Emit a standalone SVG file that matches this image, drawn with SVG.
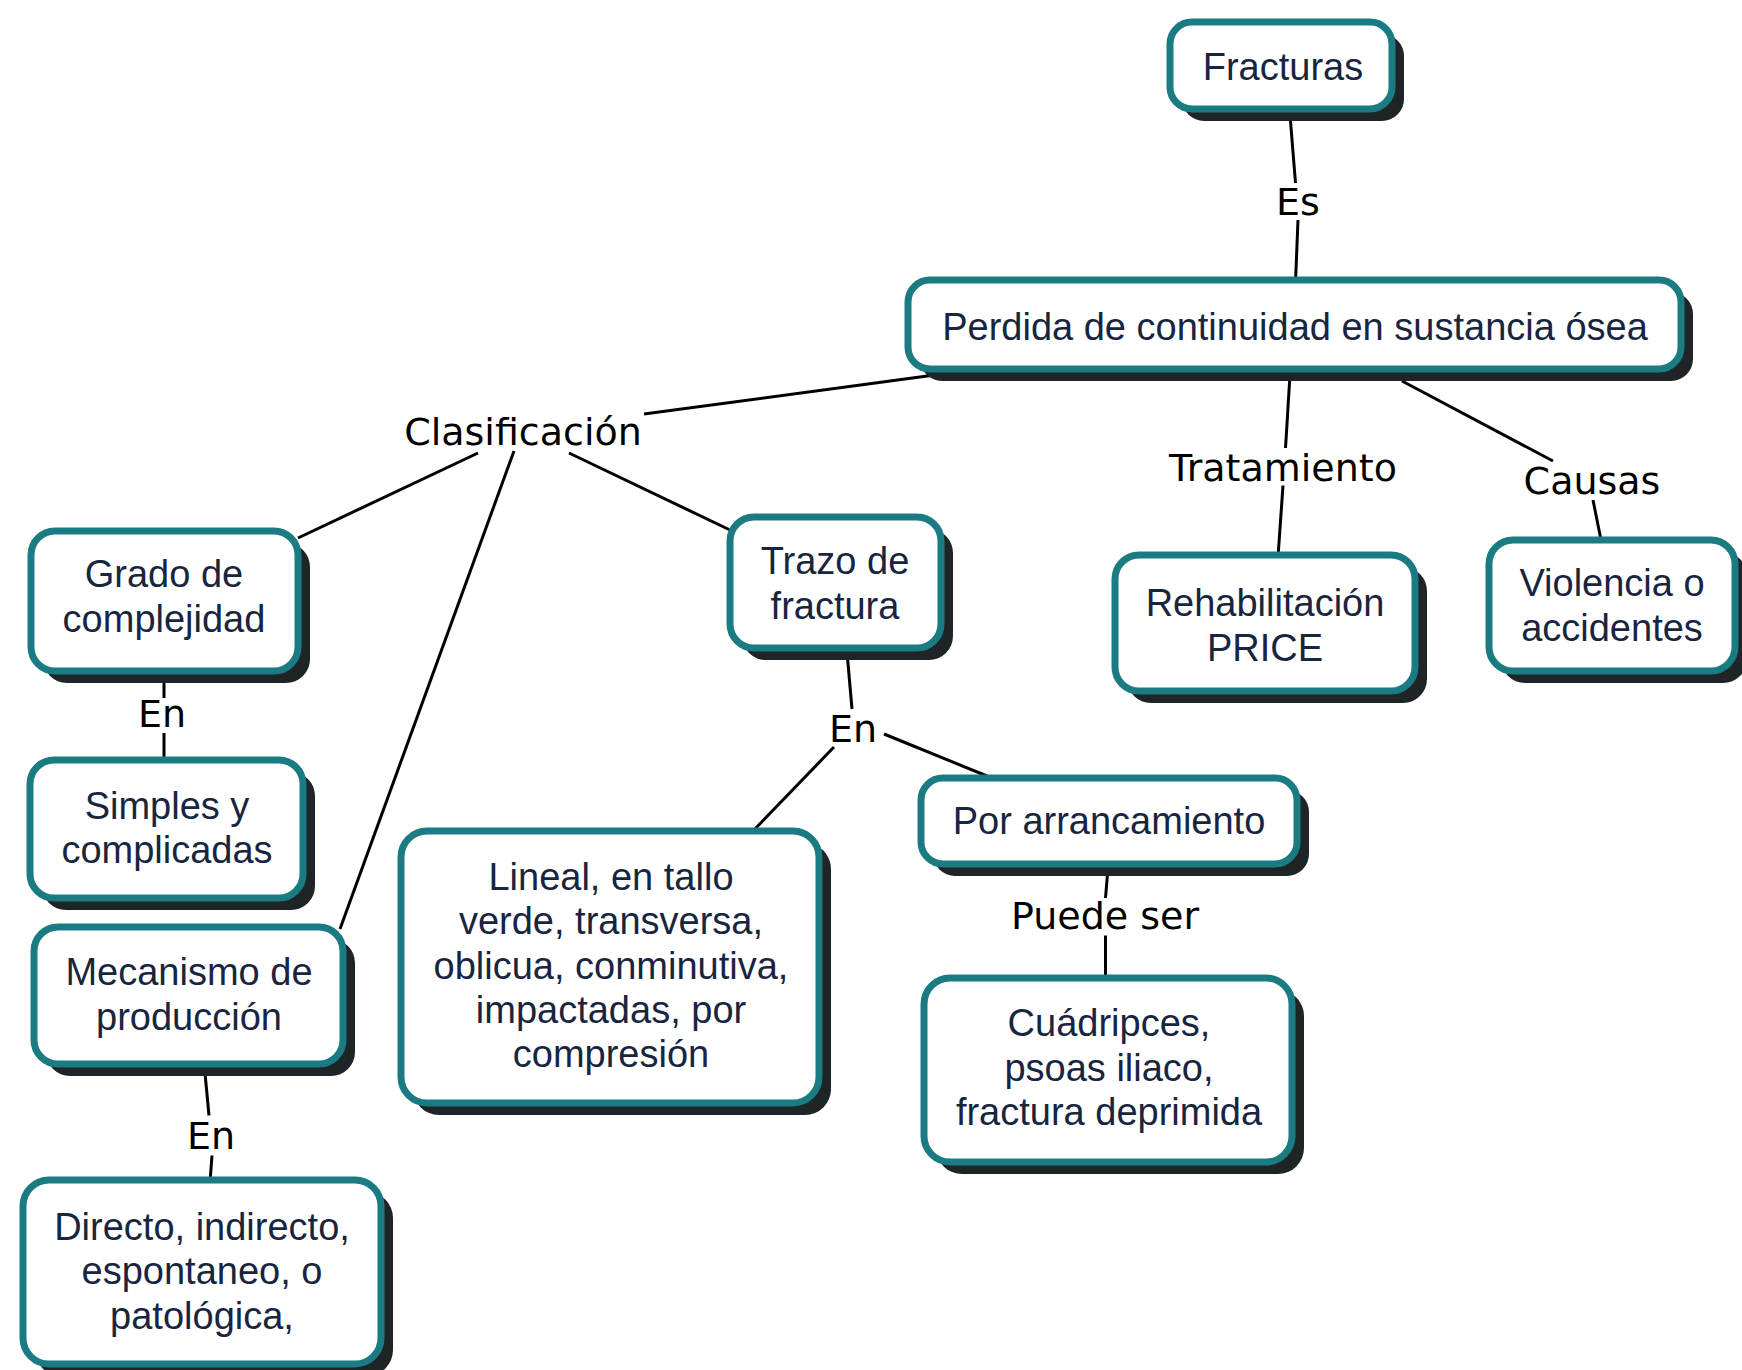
<svg xmlns="http://www.w3.org/2000/svg" width="1742" height="1370" viewBox="0 0 1742 1370">
<style>
.sh{fill:#1f2427}
.bx{fill:#ffffff;stroke:#1a7c82;stroke-width:7}
.nt{font-family:"Liberation Sans",Arial,sans-serif;font-size:38px;fill:#18253f;text-anchor:middle}
.lt{font-family:"DejaVu Sans",Verdana,sans-serif;font-size:38px;fill:#000;text-anchor:middle}
.cn line{stroke:#000;stroke-width:3}
</style>
<rect width="1742" height="1370" fill="#ffffff"/>
<g id="connectors" class="cn">
<line x1="1290" y1="115" x2="1295.5" y2="183"/>
<line x1="1298" y1="220" x2="1295.5" y2="282"/>
<line x1="931" y1="375.5" x2="644" y2="414"/>
<line x1="478" y1="453" x2="298" y2="538"/>
<line x1="514" y1="451" x2="340" y2="929"/>
<line x1="569" y1="453" x2="730" y2="530"/>
<line x1="1290" y1="375" x2="1285.5" y2="448"/>
<line x1="1283" y1="485.5" x2="1278" y2="557"/>
<line x1="1402" y1="381" x2="1553" y2="461"/>
<line x1="1593" y1="500" x2="1601" y2="540"/>
<line x1="164" y1="675" x2="164" y2="698"/>
<line x1="164" y1="733" x2="164" y2="762"/>
<line x1="847" y1="652" x2="852" y2="709"/>
<line x1="834" y1="747" x2="752" y2="832"/>
<line x1="884" y1="734" x2="987" y2="776"/>
<line x1="1108" y1="868" x2="1105.5" y2="898"/>
<line x1="1105.5" y1="935.5" x2="1105.5" y2="980"/>
<line x1="204.5" y1="1068" x2="209" y2="1115.5"/>
<line x1="212" y1="1155.5" x2="210" y2="1182"/>
</g>
<g id="labels">
<text class="lt" x="1298" y="215">Es</text>
<text class="lt" x="523" y="445">Clasificación</text>
<text class="lt" x="1283" y="481">Tratamiento</text>
<text class="lt" x="1592" y="494">Causas</text>
<text class="lt" x="162" y="727">En</text>
<text class="lt" x="853" y="742">En</text>
<text class="lt" x="211" y="1149">En</text>
<text class="lt" x="1105" y="929">Puede ser</text>
</g>
<g id="n-fracturas">
<rect class="sh" x="1182" y="34" width="222" height="87" rx="22"/>
<rect class="bx" x="1170" y="22" width="222" height="87" rx="22"/>
<text class="nt" x="1283" y="80">Fracturas</text>
</g>
<g id="n-perdida">
<rect class="sh" x="920" y="292" width="773" height="89" rx="22"/>
<rect class="bx" x="908" y="280" width="773" height="89" rx="22"/>
<text class="nt" x="1295" y="340">Perdida de continuidad en sustancia ósea</text>
</g>
<g id="n-grado">
<rect class="sh" x="43" y="543" width="267" height="140" rx="24"/>
<rect class="bx" x="31" y="531" width="267" height="140" rx="24"/>
<text class="nt" x="164" y="587">Grado de</text>
<text class="nt" x="164" y="632">complejidad</text>
</g>
<g id="n-trazo">
<rect class="sh" x="742" y="529" width="211" height="131" rx="24"/>
<rect class="bx" x="730" y="517" width="211" height="131" rx="24"/>
<text class="nt" x="835" y="574">Trazo de</text>
<text class="nt" x="835" y="619">fractura</text>
</g>
<g id="n-rehab">
<rect class="sh" x="1127" y="567" width="300" height="136" rx="24"/>
<rect class="bx" x="1115" y="555" width="300" height="136" rx="24"/>
<text class="nt" x="1265" y="616">Rehabilitación</text>
<text class="nt" x="1265" y="661">PRICE</text>
</g>
<g id="n-violencia">
<rect class="sh" x="1501" y="552" width="246" height="131" rx="24"/>
<rect class="bx" x="1489" y="540" width="246" height="131" rx="24"/>
<text class="nt" x="1612" y="596">Violencia o</text>
<text class="nt" x="1612" y="641">accidentes</text>
</g>
<g id="n-simples">
<rect class="sh" x="42" y="772" width="273" height="138" rx="24"/>
<rect class="bx" x="30" y="760" width="273" height="138" rx="24"/>
<text class="nt" x="167" y="819">Simples y</text>
<text class="nt" x="167" y="863">complicadas</text>
</g>
<g id="n-mecanismo">
<rect class="sh" x="46" y="939" width="309" height="137" rx="24"/>
<rect class="bx" x="34" y="927" width="309" height="137" rx="24"/>
<text class="nt" x="189" y="985">Mecanismo de</text>
<text class="nt" x="189" y="1030">producción</text>
</g>
<g id="n-lineal">
<rect class="sh" x="413" y="843" width="418" height="272" rx="26"/>
<rect class="bx" x="401" y="831" width="418" height="272" rx="26"/>
<text class="nt" x="611" y="890">Lineal, en tallo</text>
<text class="nt" x="611" y="934">verde, transversa,</text>
<text class="nt" x="611" y="979">oblicua, conminutiva,</text>
<text class="nt" x="611" y="1023">impactadas, por</text>
<text class="nt" x="611" y="1067">compresión</text>
</g>
<g id="n-arrancamiento">
<rect class="sh" x="933" y="790" width="376" height="86" rx="22"/>
<rect class="bx" x="921" y="778" width="376" height="86" rx="22"/>
<text class="nt" x="1109" y="834">Por arrancamiento</text>
</g>
<g id="n-cuadripces">
<rect class="sh" x="936" y="990" width="368" height="184" rx="26"/>
<rect class="bx" x="924" y="978" width="368" height="184" rx="26"/>
<text class="nt" x="1109" y="1036">Cuádripces,</text>
<text class="nt" x="1109" y="1081">psoas iliaco,</text>
<text class="nt" x="1109" y="1125">fractura deprimida</text>
</g>
<g id="n-directo">
<rect class="sh" x="35" y="1192" width="358" height="184" rx="26"/>
<rect class="bx" x="23" y="1180" width="358" height="184" rx="26"/>
<text class="nt" x="202" y="1240">Directo, indirecto,</text>
<text class="nt" x="202" y="1284">espontaneo, o</text>
<text class="nt" x="202" y="1329">patológica,</text>
</g>
</svg>
